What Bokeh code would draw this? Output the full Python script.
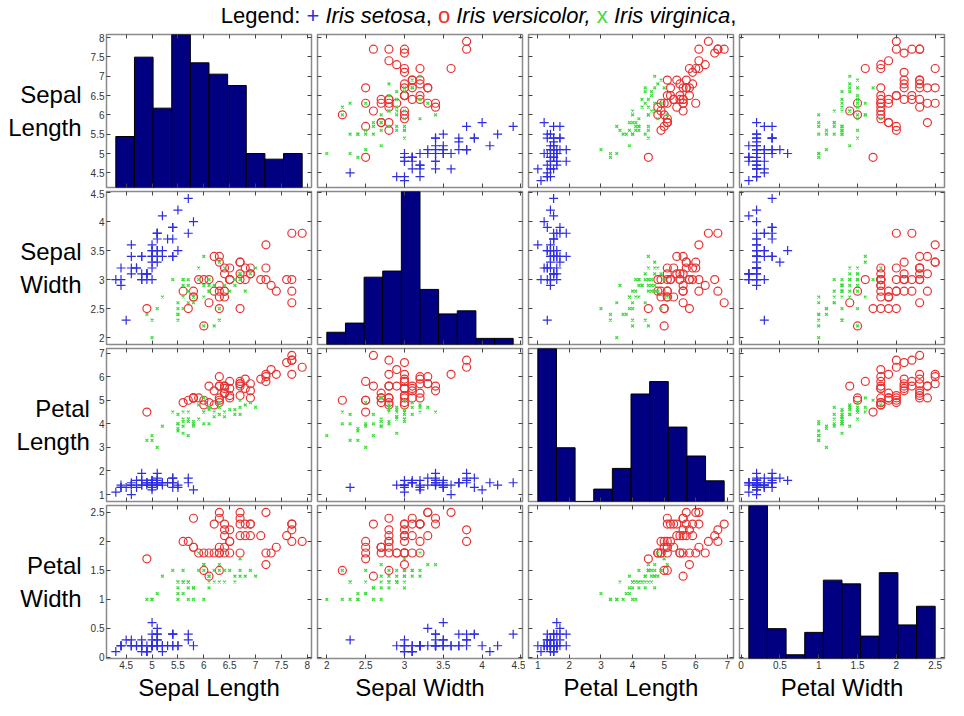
import numpy as np
from bokeh.plotting import figure
from bokeh.layouts import gridplot, column
from bokeh.models import Range1d, LinearAxis, FixedTicker, CustomJSTickFormatter, Div, Grid
from bokeh.embed import file_html
from bokeh.resources import INLINE

# ---------------- data ----------------
variables = ["Sepal Length", "Sepal Width", "Petal Length", "Petal Width"]
row_labels = ["Sepal\nLength", "Sepal\nWidth", "Petal\nLength", "Petal\nWidth"]

# blue "+" group (legend: Iris setosa)
setosa_sepal_length = [5.1,4.9,4.7,4.6,5.0,5.4,4.6,5.0,4.4,4.9,5.4,4.8,4.8,4.3,5.8,5.7,5.4,5.1,5.7,5.1,5.4,5.1,4.6,5.1,4.8,5.0,5.0,5.2,5.2,4.7,4.8,5.4,5.2,5.5,4.9,5.0,5.5,4.9,4.4,5.1,5.0,4.5,4.4,5.0,5.1,4.8,5.1,4.6,5.3,5.0]
setosa_sepal_width = [3.5,3.0,3.2,3.1,3.6,3.9,3.4,3.4,2.9,3.1,3.7,3.4,3.0,3.0,4.0,4.4,3.9,3.5,3.8,3.8,3.4,3.7,3.6,3.3,3.4,3.0,3.4,3.5,3.4,3.2,3.1,3.4,4.1,4.2,3.1,3.2,3.5,3.1,3.0,3.4,3.5,2.3,3.2,3.5,3.8,3.0,3.8,3.2,3.7,3.3]
setosa_petal_length = [1.4,1.4,1.3,1.5,1.4,1.7,1.4,1.5,1.4,1.5,1.5,1.6,1.4,1.1,1.2,1.5,1.3,1.4,1.7,1.5,1.7,1.5,1.0,1.7,1.9,1.6,1.6,1.5,1.4,1.6,1.6,1.5,1.5,1.4,1.5,1.2,1.3,1.5,1.3,1.5,1.3,1.3,1.3,1.6,1.9,1.4,1.6,1.4,1.5,1.4]
setosa_petal_width = [0.2,0.2,0.2,0.2,0.2,0.4,0.3,0.2,0.2,0.1,0.2,0.2,0.1,0.1,0.2,0.4,0.4,0.3,0.3,0.3,0.2,0.4,0.2,0.5,0.2,0.2,0.4,0.2,0.2,0.2,0.2,0.4,0.1,0.2,0.1,0.2,0.2,0.1,0.2,0.2,0.3,0.3,0.2,0.6,0.4,0.3,0.2,0.2,0.2,0.2]

# red "o" group (legend: Iris versicolor)
versicolor_sepal_length = [6.3,5.8,7.1,6.3,6.5,7.6,4.9,7.3,6.7,7.2,6.5,6.4,6.8,5.7,5.8,6.4,6.5,7.7,7.7,6.0,6.9,5.6,7.7,6.3,6.7,7.2,6.2,6.1,6.4,7.2,7.4,7.9,6.4,6.3,6.1,7.7,6.3,6.4,6.0,6.9,6.7,6.9,5.8,6.8,6.7,6.7,6.3,6.5,6.2,5.9]
versicolor_sepal_width = [3.3,2.7,3.0,2.9,3.0,3.0,2.5,2.9,2.5,3.6,3.2,2.7,3.0,2.5,2.8,3.2,3.0,3.8,2.6,2.2,3.2,2.8,2.8,2.7,3.3,3.2,2.8,3.0,2.8,3.0,2.8,3.8,2.8,2.8,2.6,3.0,3.4,3.1,3.0,3.1,3.1,3.1,2.7,3.2,3.3,3.0,2.5,3.0,3.4,3.0]
versicolor_petal_length = [6.0,5.1,5.9,5.6,5.8,6.6,4.5,6.3,5.8,6.1,5.1,5.3,5.5,5.0,5.1,5.3,5.5,6.7,6.9,5.0,5.7,4.9,6.7,4.9,5.7,6.0,4.8,4.9,5.6,5.8,6.1,6.4,5.6,5.1,5.6,6.1,5.6,5.5,4.8,5.4,5.6,5.1,5.1,5.9,5.7,5.2,5.0,5.2,5.4,5.1]
versicolor_petal_width = [2.5,1.9,2.1,1.8,2.2,2.1,1.7,1.8,1.8,2.5,2.0,1.9,2.1,2.0,2.4,2.3,1.8,2.2,2.3,1.5,2.3,2.0,2.0,1.8,2.1,1.8,1.8,1.8,2.1,1.6,1.9,2.0,2.2,1.5,1.4,2.3,2.4,1.8,1.8,2.1,2.4,2.3,1.9,2.3,2.5,2.3,1.9,2.0,2.3,1.8]

# green "x" group (legend: Iris virginica)
virginica_sepal_length = [7.0,6.4,6.9,5.5,6.5,5.7,6.3,4.9,6.6,5.2,5.0,5.9,6.0,6.1,5.6,6.7,5.6,5.8,6.2,5.6,5.9,6.1,6.3,6.1,6.4,6.6,6.8,6.7,6.0,5.7,5.5,5.5,5.8,6.0,5.4,6.0,6.7,6.3,5.6,5.5,5.5,6.1,5.8,5.0,5.6,5.7,5.7,6.2,5.1,5.7]
virginica_sepal_width = [3.2,3.2,3.1,2.3,2.8,2.8,3.3,2.4,2.9,2.7,2.0,3.0,2.2,2.9,2.9,3.1,3.0,2.7,2.2,2.5,3.2,2.8,2.5,2.8,2.9,3.0,2.8,3.0,2.9,2.6,2.4,2.4,2.7,2.7,3.0,3.4,3.1,2.3,3.0,2.5,2.6,3.0,2.6,2.3,2.7,3.0,2.9,2.9,2.5,2.8]
virginica_petal_length = [4.7,4.5,4.9,4.0,4.6,4.5,4.7,3.3,4.6,3.9,3.5,4.2,4.0,4.7,3.6,4.4,4.5,4.1,4.5,3.9,4.8,4.0,4.9,4.7,4.3,4.4,4.8,5.0,4.5,3.5,3.8,3.7,3.9,5.1,4.5,4.5,4.7,4.4,4.1,4.0,4.4,4.6,4.0,3.3,4.2,4.2,4.2,4.3,3.0,4.1]
virginica_petal_width = [1.4,1.5,1.5,1.3,1.5,1.3,1.6,1.0,1.3,1.4,1.0,1.5,1.0,1.4,1.3,1.4,1.5,1.0,1.5,1.1,1.8,1.3,1.5,1.2,1.3,1.4,1.4,1.7,1.5,1.0,1.1,1.0,1.2,1.6,1.5,1.6,1.5,1.3,1.3,1.3,1.2,1.4,1.2,1.0,1.3,1.2,1.3,1.3,1.1,1.3]

# histogram counts (10 equal bins between min and max of each variable)
hist_sepal_length = [9, 23, 14, 27, 22, 20, 18, 6, 5, 6]
hist_sepal_width = [4, 7, 22, 24, 50, 18, 10, 11, 2, 2]
hist_petal_length = [37, 13, 0, 3, 8, 26, 29, 18, 11, 5]
hist_petal_width = [41, 8, 1, 7, 21, 20, 6, 23, 9, 14]

ticks_sepal_length = [4.5, 5, 5.5, 6, 6.5, 7, 7.5, 8]
ticks_sepal_width = [2, 2.5, 3, 3.5, 4, 4.5]
ticks_petal_length = [1, 2, 3, 4, 5, 6, 7]
ticks_petal_width = [0, 0.5, 1, 1.5, 2, 2.5]

# ---------------- assembly ----------------
setosa = [setosa_sepal_length, setosa_sepal_width, setosa_petal_length, setosa_petal_width]
versicolor = [versicolor_sepal_length, versicolor_sepal_width, versicolor_petal_length, versicolor_petal_width]
virginica = [virginica_sepal_length, virginica_sepal_width, virginica_petal_length, virginica_petal_width]
hists = [hist_sepal_length, hist_sepal_width, hist_petal_length, hist_petal_width]
ticks = [ticks_sepal_length, ticks_sepal_width, ticks_petal_length, ticks_petal_width]

FONT = "Liberation Sans"
BLUE = "#2f2fe0"
RED = "#e83232"
GREEN = "#3fdc3f"

limits = []
edges = []
for k in range(4):
    allv = np.array(setosa[k] + versicolor[k] + virginica[k])
    lo, hi = allv.min(), allv.max()
    d = 0.05 * (hi - lo)
    limits.append((lo - d, hi + d))
    edges.append(np.linspace(lo, hi, 11))

FW, FH = 205, 153


def make_axis(tk, show):
    ax = LinearAxis(ticker=FixedTicker(ticks=tk))
    ax.formatter = CustomJSTickFormatter(code="return tick.toString();" if show else "return '';")
    ax.axis_line_color = None
    ax.major_tick_in = 4
    ax.major_tick_out = 0
    ax.major_tick_line_color = "#444444"
    ax.major_tick_line_width = 1
    ax.minor_tick_line_color = None
    if show:
        ax.major_label_text_font = FONT
        ax.major_label_text_font_size = "10px"
        ax.major_label_text_color = "#333333"
        ax.major_label_standoff = 2
    else:
        ax.major_label_text_font_size = "1px"
        ax.major_label_standoff = 0
    return ax


rows = []
for i in range(4):
    row = []
    for j in range(4):
        p = figure(
            frame_width=FW, frame_height=FH,
            x_range=Range1d(*limits[j]), y_range=Range1d(*limits[i]),
            x_axis_location=None, y_axis_location=None,
            output_backend="svg", toolbar_location=None,
            min_border_left=106 if j == 0 else 3,
            min_border_right=3,
            min_border_top=2,
            min_border_bottom=44 if i == 3 else 2,
            background_fill_color="white", border_fill_color="white",
        )
        for g in p.select(type=Grid):
            g.visible = False
        p.outline_line_color = "#8a8a8a"
        p.outline_line_width = 1.5

        if i == j:
            p.extra_y_ranges = {"hist": Range1d(0, max(hists[i]))}
            p.quad(left=edges[i][:-1], right=edges[i][1:], bottom=0, top=hists[i],
                   y_range_name="hist", fill_color="#000080", line_color="black", line_width=1)
        else:
            p.scatter(setosa[j], setosa[i], marker="cross", size=9, line_color=BLUE, line_width=1.2)
            p.scatter(versicolor[j], versicolor[i], marker="circle", size=8, fill_color=None,
                      line_color=RED, line_width=1.2)
            p.scatter(virginica[j], virginica[i], marker="x", size=4, line_color=GREEN, line_width=1.2)

        left = make_axis(ticks[i], j == 0)
        if j == 0:
            left.axis_label = row_labels[i]
            left.axis_label_orientation = "horizontal"
            left.axis_label_text_font = FONT
            left.axis_label_text_font_size = "24px"
            left.axis_label_text_font_style = "normal"
            left.axis_label_text_color = "black"
            left.axis_label_standoff = 6
        p.add_layout(left, "left")
        p.add_layout(make_axis(ticks[i], False), "right")

        below = make_axis(ticks[j], i == 3)
        if i == 3:
            below.axis_label = variables[j]
            below.axis_label_text_font = FONT
            below.axis_label_text_font_size = "24px"
            below.axis_label_text_font_style = "normal"
            below.axis_label_text_color = "black"
            below.axis_label_standoff = 2
        p.add_layout(below, "below")
        p.add_layout(make_axis(ticks[j], False), "above")
        row.append(p)
    rows.append(row)

grid = gridplot(rows, toolbar_location=None)

title_html = (
    "Legend: <span style='color:%s'>+</span> <i>Iris setosa</i>, "
    "<span style='color:%s'>o</span> <i>Iris versicolor,</i> "
    "<span style='color:%s'>x</span> <i>Iris virginica</i>," % (BLUE, RED, GREEN)
)
title = Div(text=title_html, width=947, height=22,
            styles={"text-align": "center", "font-family": "'Liberation Sans', Arial, sans-serif",
                    "font-size": "22px", "line-height": "22px", "color": "black", "width": "947px"})

layout = column(title, grid)

with open("out.html", "w") as f:
    f.write(file_html(layout, INLINE))
